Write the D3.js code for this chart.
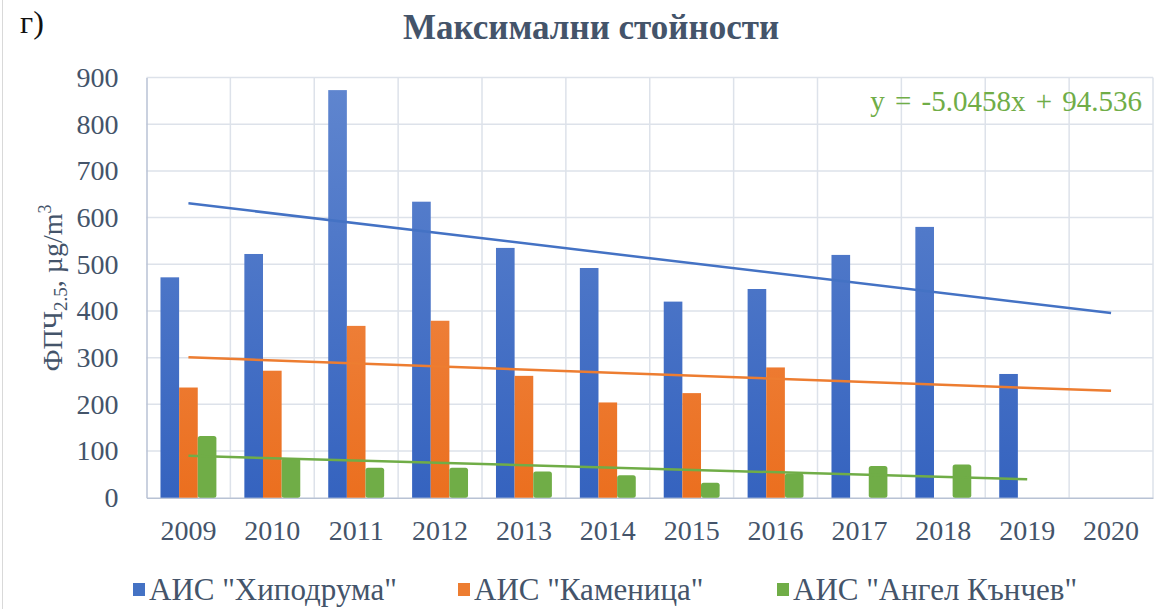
<!DOCTYPE html>
<html>
<head>
<meta charset="utf-8">
<script src="https://cdn.jsdelivr.net/npm/d3@7"></script>
<style>
  body { margin: 0; background: #fff; }
  svg text { font-family: "Liberation Serif", "Times New Roman", serif; }
</style>
</head>
<body>
<svg id="chart" width="1167" height="609"></svg>
<script>
// data
const years = ['2009', '2010', '2011', '2012', '2013', '2014', '2015', '2016', '2017', '2018', '2019', '2020'];
const hipodruma = [472, 522, 873, 634, 535, 492, 420, 447, 520, 580, 265, null];
const kamenitsa = [236, 272, 368, 379, 261, 204, 224, 279, null, null, null, null];
const angel = [132, 84, 64, 64, 56, 48, 32, 52, 68, 71, null, null];
const seriesNames = ['АИС "Хиподрума"', 'АИС "Каменица"', 'АИС "Ангел Кънчев"'];
const trendEnd = ['2020', '2020', '2019'];
const yTicks = [0, 100, 200, 300, 400, 500, 600, 700, 800, 900];
const equation = 'y = -5.0458x + 94.536';

const series = [hipodruma, kamenitsa, angel];
const svg = d3.select('#chart');
const textColor = '#44546A';
const serif = '"Liberation Serif", "Times New Roman", serif';

const margin = { left: 146.5, right: 1153, top: 77.5, bottom: 497.7 };

// scales
const x0 = d3.scaleBand()
  .domain(years)
  .range([margin.left, margin.right])
  .paddingInner(1 / 3)
  .paddingOuter(1 / 6);

const x1 = d3.scaleBand()
  .domain([0, 1, 2])
  .range([0, x0.bandwidth()]);

const y = d3.scaleLinear()
  .domain([0, 900])
  .range([margin.bottom, margin.top]);

// gradients
const defs = svg.append('defs');
const grads = [['#6086cf', '#3563bf'], ['#f19358', '#eb6f1f']];
grads.forEach((g, i) => {
  const lg = defs.append('linearGradient')
    .attr('id', 'grad' + i)
    .attr('gradientUnits', 'userSpaceOnUse')
    .attr('x1', 0).attr('x2', 0)
    .attr('y1', margin.top).attr('y2', margin.bottom);
  lg.append('stop').attr('offset', '0%').attr('stop-color', g[0]);
  lg.append('stop').attr('offset', '100%').attr('stop-color', g[1]);
});
const fills = ['url(#grad0)', 'url(#grad1)', '#70ad47'];
const legendFills = ['#4472c4', '#ed7d31', '#70ad47'];
const lineColors = ['#4472c4', '#ed7d31', '#70ad47'];

// outer frame
svg.append('rect')
  .attr('x', 2.5).attr('y', -2)
  .attr('width', 1170).attr('height', 620)
  .attr('fill', 'none')
  .attr('stroke', '#d9d9d9');

// gridlines
svg.append('g')
  .selectAll('line')
  .data(yTicks.slice(1))
  .join('line')
  .attr('x1', margin.left).attr('x2', margin.right)
  .attr('y1', d => y(d)).attr('y2', d => y(d))
  .attr('stroke', '#dde2ea')
  .attr('stroke-width', 1.5);

const step = x0.step();
svg.append('g')
  .selectAll('line')
  .data(d3.range(1, years.length + 1))
  .join('line')
  .attr('x1', i => margin.left + i * step).attr('x2', i => margin.left + i * step)
  .attr('y1', margin.top).attr('y2', margin.bottom)
  .attr('stroke', '#dde2ea')
  .attr('stroke-width', 1.5);

// y axis
const yAxis = svg.append('g')
  .attr('transform', `translate(${margin.left},0)`)
  .call(d3.axisLeft(y).tickValues(yTicks).tickSize(0).tickPadding(28));
yAxis.attr('font-family', serif);
yAxis.select('.domain').attr('stroke', '#b8c2d4').attr('stroke-width', 1.5);
yAxis.selectAll('text')
  .attr('fill', textColor)
  .style('font-size', '28px')
  .style('font-family', serif);

// x axis
const xAxis = svg.append('g')
  .attr('transform', `translate(0,${margin.bottom})`)
  .call(d3.axisBottom(x0).tickSize(0).tickPadding(22));
xAxis.attr('font-family', serif);
xAxis.select('.domain').attr('stroke', '#b8c2d4').attr('stroke-width', 1.5);
xAxis.selectAll('text')
  .attr('fill', textColor)
  .style('font-size', '28px')
  .style('font-family', serif);

// bars
series.forEach((vals, s) => {
  svg.append('g')
    .selectAll('rect')
    .data(vals.map((v, i) => ({ v, year: years[i] })).filter(d => d.v !== null))
    .join('rect')
    .attr('x', d => x0(d.year) + x1(s))
    .attr('width', x1.bandwidth())
    .attr('y', d => y(d.v))
    .attr('height', d => y(0) - y(d.v))
    .attr('rx', s === 2 ? 2.5 : 0)
    .attr('fill', fills[s]);
});

// linear trendlines (least squares on index 1..n)
series.forEach((vals, s) => {
  const pts = vals.map((v, i) => [i + 1, v]).filter(d => d[1] !== null);
  const mx = d3.mean(pts, d => d[0]);
  const my = d3.mean(pts, d => d[1]);
  const slope = d3.sum(pts, d => (d[0] - mx) * (d[1] - my)) / d3.sum(pts, d => (d[0] - mx) ** 2);
  const b = my - slope * mx;
  const endI = years.indexOf(trendEnd[s]) + 1;
  const cx = i => x0(years[i - 1]) + x0.bandwidth() / 2;
  svg.append('line')
    .attr('x1', cx(1)).attr('y1', y(b + slope))
    .attr('x2', cx(endI)).attr('y2', y(b + slope * endI))
    .attr('stroke', lineColors[s])
    .attr('stroke-width', 2.5);
});

// equation
svg.append('text')
  .attr('x', 1142).attr('y', 111)
  .attr('text-anchor', 'end')
  .attr('fill', '#70ad47')
  .style('font-size', '29px')
  .style('font-family', serif)
  .style('word-spacing', '3px')
  .text(equation);

// title
svg.append('text')
  .attr('x', 591).attr('y', 39)
  .attr('text-anchor', 'middle')
  .attr('fill', textColor)
  .style('font-size', '35px')
  .style('font-weight', 'bold')
  .style('font-family', serif)
  .text('Максимални стойности');

svg.append('text')
  .attr('x', 20).attr('y', 33)
  .attr('fill', '#111')
  .style('font-size', '32px')
  .style('font-family', serif)
  .text('г)');

// y label
const yl = svg.append('text')
  .attr('transform', 'translate(62,288) rotate(-90)')
  .attr('text-anchor', 'middle')
  .attr('fill', textColor)
  .style('font-size', '28px')
  .style('font-family', serif);
yl.append('tspan').text('ФПЧ');
yl.append('tspan').attr('dy', 5).style('font-size', '19px').text('2.5');
yl.append('tspan').attr('dy', -5).text(', µg/m');
yl.append('tspan').attr('dy', -11).style('font-size', '18px').text('3');

// legend
const legendX = [133, 458, 777];
const legend = svg.append('g');
seriesNames.forEach((name, i) => {
  legend.append('rect')
    .attr('x', legendX[i]).attr('y', 583)
    .attr('width', 12).attr('height', 13)
    .attr('fill', legendFills[i]);
  legend.append('text')
    .attr('x', legendX[i] + 16).attr('y', 600)
    .attr('fill', textColor)
    .style('font-size', '31px')
    .style('font-family', serif)
    .text(name);
});
</script>
</body>
</html>
